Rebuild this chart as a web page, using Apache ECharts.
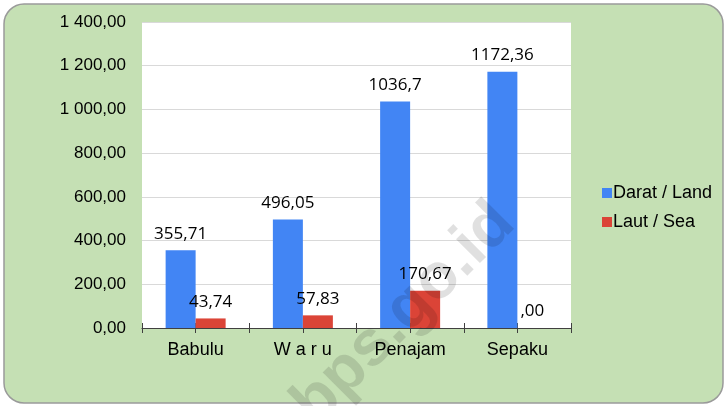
<!DOCTYPE html>
<html><head><meta charset="utf-8">
<script src="https://cdn.jsdelivr.net/npm/echarts@6/dist/echarts.min.js"></script>
<style>html,body{margin:0;padding:0;background:#fff}#c{width:727px;height:406px}</style>
</head><body><div id="c"></div>
<script>
const categories = ['Babulu', 'W a r u', 'Penajam', 'Sepaku'];
const darat = [355.71, 496.05, 1036.7, 1172.36];
const laut = [43.74, 57.83, 170.67, 0];
const daratLabels = ['355,71', '496,05', '1036,7', '1172,36'];
const lautLabels = ['43,74', '57,83', '170,67', ',00'];
const yTicks = [0, 200, 400, 600, 800, 1000, 1200, 1400];

function fmtY(v){
  const s = v.toFixed(2).replace('.', ',');
  const [i, d] = s.split(',');
  return i.replace(/\B(?=(\d{3})+(?!\d))/g, ' ') + ',' + d;
}

const chart = echarts.init(document.getElementById('c'));
const labelFont = {fontFamily: 'Open Sans', fontSize: 17, color: '#000'};
chart.setOption({
  animation: false,
  graphic: [
    {type: 'rect', z: -10, shape: {x: 4, y: 4, width: 719, height: 399, r: 20},
     style: {fill: '#c5e0b4', stroke: '#9a9a9a', lineWidth: 1.5}},
    {type: 'text', z: 10, x: 404, y: 314, rotation: Math.PI * 45 / 180,
     style: {text: 'bps.go.id', font: 'bold 64px Arial', fill: 'rgba(0,0,0,0.12)', textAlign: 'center', textVerticalAlign: 'middle'}}
  ],
  grid: {left: 142, right: 156, top: 22, bottom: 78, show: true, backgroundColor: '#fff', borderWidth: 0},
  legend: {
    orient: 'vertical', left: 597, top: 179, itemWidth: 10, itemHeight: 10, icon: 'rect', itemGap: 11,
    textStyle: {fontFamily: 'Liberation Sans', fontSize: 18, color: '#000', padding: [0,0,0,-4]},
    data: ['Darat / Land', 'Laut / Sea']
  },
  xAxis: [
    {type: 'category', data: categories, axisLine: {lineStyle: {color: '#404040', width: 1.2}},
     axisTick: {show: false}, axisLabel: {fontFamily: 'Liberation Sans', fontSize: 18, color: '#000', margin: 13}},
    {type: 'category', data: ['','','','','','','',''], position: 'bottom', axisLine: {show: false},
     axisTick: {show: true, length: 5, lineStyle: {color: '#404040'}}, axisLabel: {show: false}},
    {type: 'category', data: ['','','','','','','',''], position: 'bottom', axisLine: {show: false},
     axisTick: {show: true, inside: true, length: 5, lineStyle: {color: '#404040'}}, axisLabel: {show: false}}
  ],
  yAxis: {
    type: 'value', min: yTicks[0], max: yTicks[yTicks.length-1], interval: 200,
    axisLine: {show: false}, axisTick: {show: false},
    splitLine: {lineStyle: {color: '#d9d9d9', width: 1.2}},
    axisLabel: {fontFamily: 'Liberation Sans', fontSize: 17, color: '#000', margin: 16, formatter: fmtY}
  },
  series: [
    {name: 'Darat / Land', type: 'bar', data: darat, barWidth: 30, barGap: '0%', itemStyle: {color: '#4285f4'},
     label: Object.assign({show: true, position: 'top', distance: 8, formatter: p => daratLabels[p.dataIndex]}, labelFont)},
    {name: 'Laut / Sea', type: 'bar', data: laut, barWidth: 30, barGap: '0%', itemStyle: {color: '#db4437'},
     label: Object.assign({show: true, position: 'top', distance: 8, formatter: p => lautLabels[p.dataIndex]}, labelFont)}
  ]
});
</script></body></html>
